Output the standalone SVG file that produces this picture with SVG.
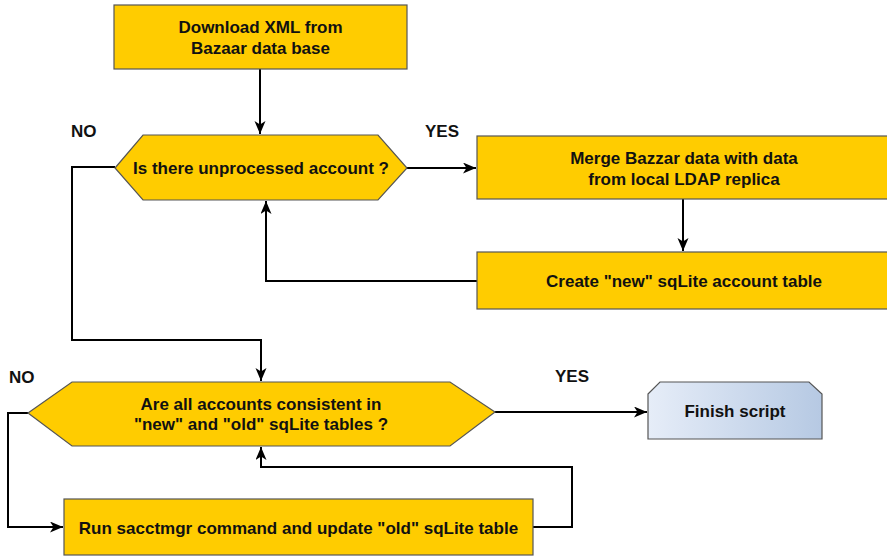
<svg xmlns="http://www.w3.org/2000/svg" width="887" height="557" viewBox="0 0 887 557">
  <style>
    .box { fill: #ffcc00; stroke: #555555; stroke-width: 1.2; }
    .term { fill: url(#finishFill); stroke: #555555; stroke-width: 1.2; }
    .lbl { font-family: "Liberation Sans", Arial, sans-serif; font-weight: bold; font-size: 17px; fill: #111111; text-anchor: middle; }
    .tag { font-family: "Liberation Sans", Arial, sans-serif; font-weight: bold; font-size: 17px; fill: #111111; }
    .edge { fill: none; stroke: #000000; stroke-width: 2; }
  </style>
  <defs>
    <linearGradient id="finishFill" x1="0" y1="0" x2="1" y2="0">
      <stop offset="0" stop-color="#e6edf8"/>
      <stop offset="1" stop-color="#b6c9e3"/>
    </linearGradient>
    <marker id="arrow" markerUnits="userSpaceOnUse" markerWidth="14" markerHeight="12" refX="13" refY="5.5" orient="auto">
      <path d="M0,0 L13,5.5 L0,11 L3.5,5.5 Z" fill="#000000"/>
    </marker>
  </defs>

  <rect width="887" height="557" fill="#ffffff"/>

  <!-- connectors -->
  <g id="connectors">
    <path class="edge" d="M260,69 V134" marker-end="url(#arrow)"/>
    <path class="edge" d="M407,168 H476" marker-end="url(#arrow)"/>
    <path class="edge" d="M683,199 V251" marker-end="url(#arrow)"/>
    <path class="edge" d="M477,281 H266 V201" marker-end="url(#arrow)"/>
    <path class="edge" d="M115,167 H72 V340 H261 V381" marker-end="url(#arrow)"/>
    <path class="edge" d="M495,412 H647" marker-end="url(#arrow)"/>
    <path class="edge" d="M28,413 H8 V527 H63" marker-end="url(#arrow)"/>
    <path class="edge" d="M533,527 H572 V467 H261 V447" marker-end="url(#arrow)"/>
  </g>

  <!-- branch labels -->
  <g id="labels">
    <text class="tag" x="71" y="137">NO</text>
    <text class="tag" x="425" y="137">YES</text>
    <text class="tag" x="9" y="383">NO</text>
    <text class="tag" x="555" y="382">YES</text>
  </g>

  <g id="download">
    <rect class="box" x="114" y="5" width="293" height="64"/>
    <text class="lbl" x="260.5" y="33">Download XML from</text>
    <text class="lbl" x="260.5" y="54">Bazaar data base</text>
  </g>

  <g id="unprocessed">
    <polygon class="box" points="115,168 143,135 378,135 407,168 378,200 143,200"/>
    <text class="lbl" x="261" y="174">Is there unprocessed account ?</text>
  </g>

  <g id="merge">
    <rect class="box" x="477" y="136" width="414" height="63"/>
    <text class="lbl" x="684" y="164">Merge Bazzar data with data</text>
    <text class="lbl" x="684" y="185">from local LDAP replica</text>
  </g>

  <g id="create">
    <rect class="box" x="477" y="252" width="414" height="57"/>
    <text class="lbl" x="684" y="287">Create "new" sqLite account table</text>
  </g>

  <g id="consistent">
    <polygon class="box" points="28,413 72,382 450,382 495,412 450,446 72,446"/>
    <text class="lbl" x="261" y="410">Are all accounts consistent in</text>
    <text class="lbl" x="261" y="430">"new" and "old" sqLite tables ?</text>
  </g>

  <g id="finish">
    <polygon class="term" points="648,394 660,382 809,382 822,394 822,439 648,439"/>
    <text class="lbl" x="735" y="417">Finish script</text>
  </g>

  <g id="sacctmgr">
    <rect class="box" x="64" y="499" width="469" height="56"/>
    <text class="lbl" x="298.5" y="534">Run sacctmgr command and update "old" sqLite table</text>
  </g>
</svg>
